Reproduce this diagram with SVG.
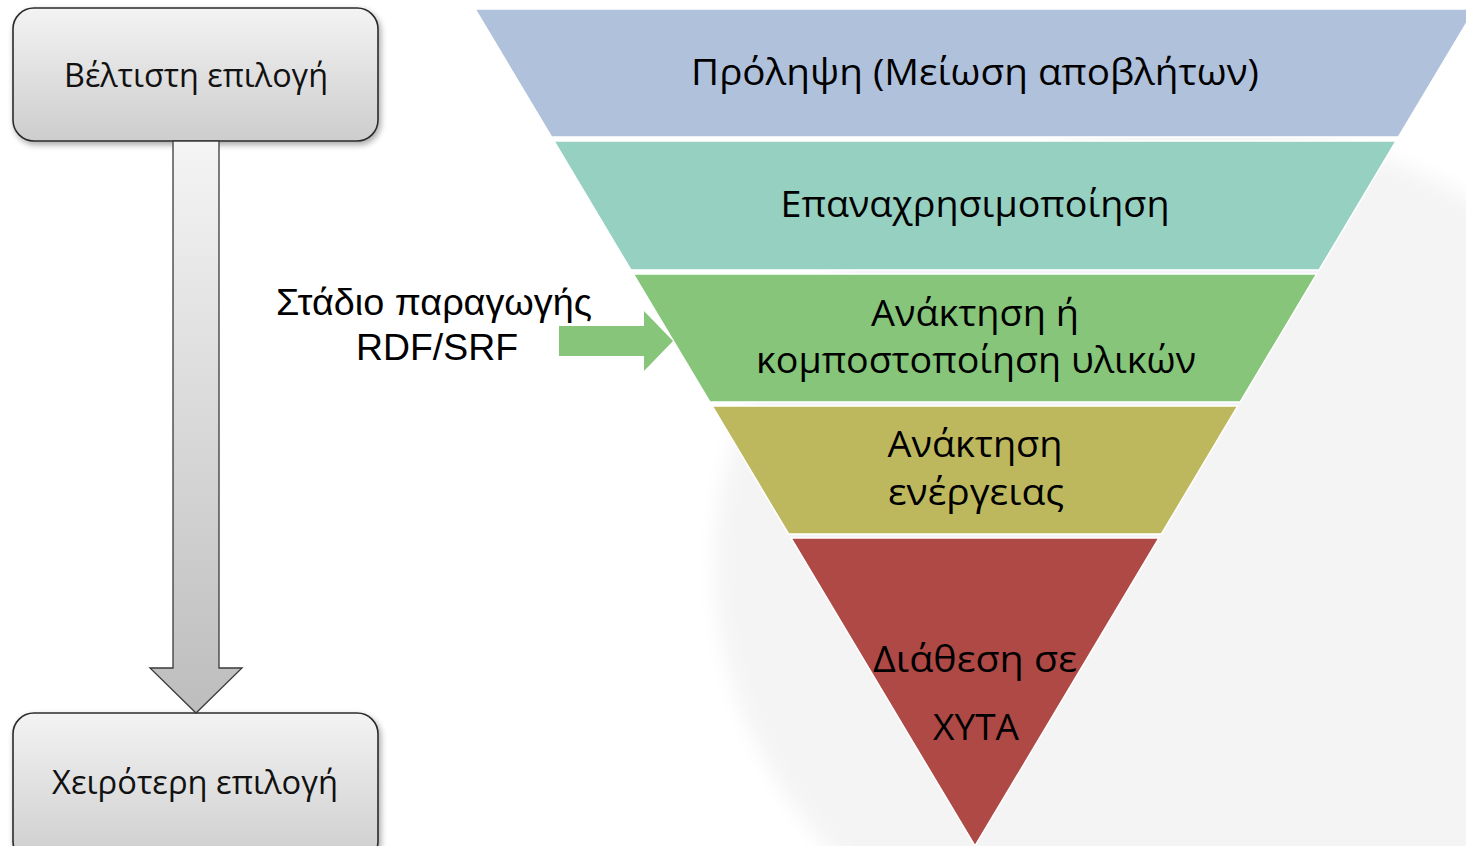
<svg xmlns="http://www.w3.org/2000/svg" width="1466" height="846" viewBox="0 0 1466 846">
  <defs>
    <linearGradient id="boxFill" x1="0" y1="0" x2="0" y2="1">
      <stop offset="0" stop-color="#f3f3f3"/>
      <stop offset="1" stop-color="#cdcdcd"/>
    </linearGradient>
    <linearGradient id="shaftFill" x1="0" y1="0" x2="0" y2="1">
      <stop offset="0" stop-color="#f4f4f4"/>
      <stop offset="1" stop-color="#bdbdbd"/>
    </linearGradient>
    <filter id="shadow" x="-10%" y="-10%" width="125%" height="130%">
      <feGaussianBlur in="SourceAlpha" stdDeviation="3"/>
      <feOffset dx="2" dy="3" result="b"/>
      <feComponentTransfer><feFuncA type="linear" slope="0.35"/></feComponentTransfer>
      <feMerge><feMergeNode/><feMergeNode in="SourceGraphic"/></feMerge>
    </filter>
    <filter id="soft" x="-10%" y="-10%" width="120%" height="120%">
      <feGaussianBlur stdDeviation="10"/>
    </filter>
    <style>
      .box { fill: url(#boxFill); stroke: #2b2b2b; stroke-width: 1.6; }
      .boxText { font-family: "Open Sans", "Noto Sans", sans-serif; font-size: 33px; fill: #111; text-anchor: middle; }
      .band { stroke: #ffffff; stroke-width: 1.5; }
      .bandText { font-family: "Open Sans", "Noto Sans", sans-serif; font-size: 36px; fill: #000; text-anchor: middle; }
      .sideText { font-family: "Liberation Sans", Arial, sans-serif; font-size: 36px; fill: #000; text-anchor: middle; }
    </style>
  </defs>

  <rect width="1466" height="846" fill="#ffffff"/>

  <!-- faint seal in the background -->
  <ellipse cx="1200" cy="565" rx="485" ry="440" fill="#f4f4f4" filter="url(#soft)"/>

  <!-- waste hierarchy (inverted pyramid) -->
  <g id="band-prevention">
    <polygon class="band" fill="#b0c1dc" points="475,9 1475,9 1398.5,137 551.5,137"/>
    <text class="bandText" x="975" y="85" textLength="568" lengthAdjust="spacingAndGlyphs">Πρόληψη (Μείωση αποβλήτων)</text>
  </g>
  <g id="band-reuse">
    <polygon class="band" fill="#96d0c0" points="553.9,141 1396.1,141 1319.1,270 630.9,270"/>
    <text class="bandText" x="975" y="217" textLength="389" lengthAdjust="spacingAndGlyphs">Επαναχρησιμοποίηση</text>
  </g>
  <g id="band-recovery">
    <polygon class="band" fill="#86c57a" points="633.3,274 1316.7,274 1240.2,402 709.8,402"/>
    <text class="bandText" x="975" y="326" textLength="208" lengthAdjust="spacingAndGlyphs">Ανάκτηση ή</text>
    <text class="bandText" x="976" y="373" textLength="440" lengthAdjust="spacingAndGlyphs">κομποστοποίηση υλικών</text>
  </g>
  <g id="band-energy">
    <polygon class="band" fill="#bdb85e" points="712.2,406 1237.8,406 1161.4,534 788.6,534"/>
    <text class="bandText" x="975" y="457" textLength="175" lengthAdjust="spacingAndGlyphs">Ανάκτηση</text>
    <text class="bandText" x="976" y="505" textLength="176" lengthAdjust="spacingAndGlyphs">ενέργειας</text>
  </g>
  <g id="band-landfill">
    <polygon class="band" fill="#ae4945" points="791,538 1159,538 975,846"/>
    <text class="bandText" x="975" y="672" textLength="204" lengthAdjust="spacingAndGlyphs">Διάθεση σε</text>
    <text class="bandText" x="976" y="740" textLength="86" lengthAdjust="spacingAndGlyphs">ΧΥΤΑ</text>
  </g>

  <!-- ranking boxes -->
  <g id="best-option">
    <rect class="box" x="13" y="8" width="365" height="133" rx="21" filter="url(#shadow)"/>
    <text class="boxText" x="196" y="87" textLength="264" lengthAdjust="spacingAndGlyphs">Βέλτιστη επιλογή</text>
  </g>
  <g id="worst-option">
    <rect class="box" x="13" y="713" width="365" height="150" rx="21" filter="url(#shadow)"/>
    <text class="boxText" x="195" y="794" textLength="286" lengthAdjust="spacingAndGlyphs">Χειρότερη επιλογή</text>
  </g>

  <g id="rdf-label">
    <text class="sideText" x="434" y="315" textLength="316" lengthAdjust="spacingAndGlyphs">Στάδιο παραγωγής</text>
    <text class="sideText" x="437" y="360" textLength="162" lengthAdjust="spacingAndGlyphs">RDF/SRF</text>
  </g>

  <!-- connectors -->
  <g id="connectors">
    <path d="M173,141 L219,141 L219,668 L242,668 L196,713 L150,668 L173,668 Z" fill="url(#shaftFill)" stroke="#3a3a3a" stroke-width="1.3" stroke-linejoin="miter"/>
    <path d="M559,326 L644,326 L644,311 L673,341 L644,371 L644,356 L559,356 Z" fill="#86c57a"/>
  </g>
</svg>
